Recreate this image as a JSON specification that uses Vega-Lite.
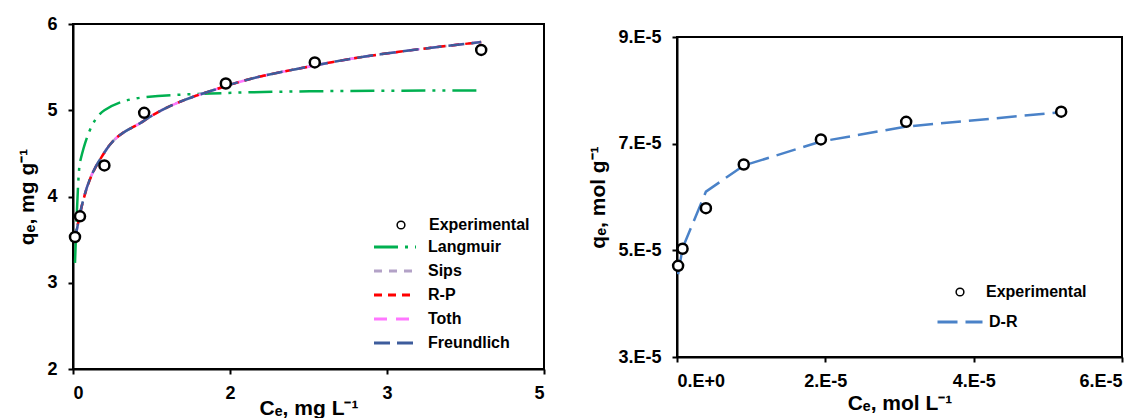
{
  "$schema": "https://vega.github.io/schema/vega-lite/v6.json",
  "background": "white",
  "padding": {"left": 15, "top": 14, "right": 0, "bottom": 0},
  "config": {
    "font": "Liberation Sans",
    "view": {"stroke": "black", "strokeWidth": 2},
    "axis": {
      "labelFont": "Liberation Sans", "labelFontWeight": "bold", "labelFontSize": 18, "labelColor": "black",
      "titleFont": "Liberation Sans", "titleFontWeight": "bold", "titleFontSize": 21, "titleColor": "black",
      "domainColor": "black", "domainWidth": 2, "tickColor": "black", "tickWidth": 2, "tickSize": 5,
      "grid": false, "labelPadding": 10
    },
    "legend": {
      "labelFont": "Liberation Sans", "labelFontWeight": "bold", "labelFontSize": 16, "labelColor": "black",
      "padding": 0
    },
    "concat": {"spacing": 40}
  },
  "datasets": {
    "left_exp": [
      {"series": "Experimental", "ce": 0.019, "qe": 3.53},
      {"series": "Experimental", "ce": 0.067, "qe": 3.77},
      {"series": "Experimental", "ce": 0.30, "qe": 4.36},
      {"series": "Experimental", "ce": 0.68, "qe": 4.97},
      {"series": "Experimental", "ce": 1.46, "qe": 5.31},
      {"series": "Experimental", "ce": 2.31, "qe": 5.555},
      {"series": "Experimental", "ce": 3.90, "qe": 5.70}
    ],
    "left_fit": [
      {"model": "Langmuir", "ce": 0.019, "qe": 3.23},
      {"model": "Langmuir", "ce": 0.067, "qe": 4.40},
      {"model": "Langmuir", "ce": 0.30, "qe": 5.00},
      {"model": "Langmuir", "ce": 0.68, "qe": 5.15},
      {"model": "Langmuir", "ce": 1.46, "qe": 5.20},
      {"model": "Langmuir", "ce": 2.31, "qe": 5.22},
      {"model": "Langmuir", "ce": 3.90, "qe": 5.23},
      {"model": "Sips", "ce": 0.019, "qe": 3.50},
      {"model": "Sips", "ce": 0.067, "qe": 3.80},
      {"model": "Sips", "ce": 0.30, "qe": 4.51},
      {"model": "Sips", "ce": 0.68, "qe": 4.88},
      {"model": "Sips", "ce": 1.46, "qe": 5.28},
      {"model": "Sips", "ce": 2.31, "qe": 5.52},
      {"model": "Sips", "ce": 3.90, "qe": 5.79},
      {"model": "Toth", "ce": 0.019, "qe": 3.50},
      {"model": "Toth", "ce": 0.067, "qe": 3.80},
      {"model": "Toth", "ce": 0.30, "qe": 4.51},
      {"model": "Toth", "ce": 0.68, "qe": 4.88},
      {"model": "Toth", "ce": 1.46, "qe": 5.28},
      {"model": "Toth", "ce": 2.31, "qe": 5.52},
      {"model": "Toth", "ce": 3.90, "qe": 5.79},
      {"model": "R-P", "ce": 0.019, "qe": 3.51},
      {"model": "R-P", "ce": 0.067, "qe": 3.80},
      {"model": "R-P", "ce": 0.30, "qe": 4.51},
      {"model": "R-P", "ce": 0.68, "qe": 4.88},
      {"model": "R-P", "ce": 1.46, "qe": 5.28},
      {"model": "R-P", "ce": 2.31, "qe": 5.52},
      {"model": "R-P", "ce": 3.90, "qe": 5.79},
      {"model": "Freundlich", "ce": 0.019, "qe": 3.50},
      {"model": "Freundlich", "ce": 0.067, "qe": 3.80},
      {"model": "Freundlich", "ce": 0.30, "qe": 4.51},
      {"model": "Freundlich", "ce": 0.68, "qe": 4.88},
      {"model": "Freundlich", "ce": 1.46, "qe": 5.28},
      {"model": "Freundlich", "ce": 2.31, "qe": 5.52},
      {"model": "Freundlich", "ce": 3.90, "qe": 5.79}
    ],
    "right_exp": [
      {"series": "Experimental", "ce": 1.5e-7, "qe": 4.71e-5},
      {"series": "Experimental", "ce": 7.5e-7, "qe": 5.03e-5},
      {"series": "Experimental", "ce": 3.9e-6, "qe": 5.79e-5},
      {"series": "Experimental", "ce": 9.0e-6, "qe": 6.61e-5},
      {"series": "Experimental", "ce": 1.94e-5, "qe": 7.08e-5},
      {"series": "Experimental", "ce": 3.09e-5, "qe": 7.41e-5},
      {"series": "Experimental", "ce": 5.18e-5, "qe": 7.60e-5}
    ],
    "right_fit": [
      {"model": "D-R", "ce": 1.5e-7, "qe": 4.55e-5},
      {"model": "D-R", "ce": 7.5e-7, "qe": 5.04e-5},
      {"model": "D-R", "ce": 3.9e-6, "qe": 6.10e-5},
      {"model": "D-R", "ce": 9.0e-6, "qe": 6.59e-5},
      {"model": "D-R", "ce": 1.94e-5, "qe": 7.04e-5},
      {"model": "D-R", "ce": 3.09e-5, "qe": 7.32e-5},
      {"model": "D-R", "ce": 5.18e-5, "qe": 7.59e-5}
    ]
  },
  "hconcat": [
    {
      "width": 471,
      "height": 345,
      "layer": [
        {
          "data": {"name": "left_fit"},
          "mark": {"type": "line", "strokeWidth": 2.5, "interpolate": "monotone"},
          "encoding": {
            "x": {"field": "ce", "type": "quantitative",
              "scale": {"domain": [0, 4.5], "nice": false, "zero": false},
              "axis": {"title": "Cₑ, mg L⁻¹", "values": [0, 1.5, 3, 4.5], "labelExpr": "'' + round(datum.value)", "titlePadding": -5}},
            "y": {"field": "qe", "type": "quantitative",
              "scale": {"domain": [2, 6], "nice": false, "zero": false},
              "axis": {"title": "qₑ, mg g⁻¹", "values": [2, 3, 4, 5, 6], "labelExpr": "'' + round(datum.value)", "labelPadding": 11, "titlePadding": 9}},
            "color": {"field": "model", "type": "nominal",
              "scale": {"domain": ["Langmuir", "Sips", "R-P", "Toth", "Freundlich"],
                        "range": ["#00b050", "#b3a2c7", "#ff0000", "#ff77ff", "#3d5c9c"]},
              "legend": {"orient": "none", "legendX": 310, "legendY": 211, "title": null,
                         "symbolType": "M-2,0H2", "symbolSize": 441, "symbolStrokeWidth": 3,
                         "labelOffset": 21, "rowPadding": 4}},
            "strokeDash": {"field": "model", "type": "nominal",
              "scale": {"domain": ["Langmuir", "Sips", "R-P", "Toth", "Freundlich"],
                        "range": [[24, 7, 3, 7, 3, 7], [8, 7], [8, 6], [13, 9], [16, 7]]},
              "legend": {"orient": "none", "legendX": 310, "legendY": 211, "title": null,
                         "symbolType": "M-2,0H2", "symbolSize": 441, "symbolStrokeWidth": 3,
                         "labelOffset": 21, "rowPadding": 4}}
          }
        },
        {
          "data": {"name": "left_exp"},
          "mark": {"type": "point", "shape": "circle", "filled": true, "fill": "white", "stroke": "black", "strokeWidth": 2.5, "size": 100, "opacity": 1},
          "encoding": {
            "x": {"field": "ce", "type": "quantitative"},
            "y": {"field": "qe", "type": "quantitative"},
            "shape": {"field": "series", "type": "nominal",
              "scale": {"domain": ["Experimental"], "range": ["circle"]},
              "legend": {"orient": "none", "legendX": 320, "legendY": 193, "title": null,
                         "symbolSize": 60, "labelOffset": 20,
                         "encode": {"symbols": {"update": {"stroke": {"value": "black"}, "strokeWidth": {"value": 2.5}, "fill": {"value": "white"}, "opacity": {"value": 1}}}}}}
          }
        }
      ]
    },
    {
      "spacing": 2,
      "vconcat": [
        {
          "width": 445,
          "height": 1,
          "view": {"stroke": null},
          "data": {"values": []},
          "mark": {"type": "point"}
        },
        {
          "width": 445,
          "height": 320,
          "layer": [
            {
              "data": {"name": "right_fit"},
              "mark": {"type": "line", "strokeWidth": 2.5},
              "encoding": {
                "x": {"field": "ce", "type": "quantitative",
                  "scale": {"domain": [0, 6e-5], "nice": false, "zero": false},
                  "axis": {"title": "Cₑ, mol L⁻¹", "values": [0, 2e-5, 4e-5, 6e-5],
                           "labelExpr": "datum.value == 0 ? '0.E+0' : round(datum.value * 100000) + '.E-5'", "titlePadding": 2}},
                "y": {"field": "qe", "type": "quantitative",
                  "scale": {"domain": [3e-5, 9e-5], "nice": false, "zero": false},
                  "axis": {"title": "qₑ, mol g⁻¹", "values": [3e-5, 5e-5, 7e-5, 9e-5],
                           "labelExpr": "round(datum.value * 100000) + '.E-5'", "labelPadding": 11, "titlePadding": 9}},
                "color": {"field": "model", "type": "nominal",
                  "scale": {"domain": ["D-R"], "range": ["#4a82c8"]},
                  "legend": {"orient": "none", "legendX": 259, "legendY": 274, "title": null,
                             "symbolType": "stroke", "symbolSize": 2025, "symbolStrokeWidth": 3,
                             "labelOffset": 5}},
                "strokeDash": {"field": "model", "type": "nominal",
                  "scale": {"domain": ["D-R"], "range": [[20, 8]]},
                  "legend": {"orient": "none", "legendX": 259, "legendY": 274, "title": null,
                             "symbolType": "stroke", "symbolSize": 2025, "symbolStrokeWidth": 3,
                             "labelOffset": 5}}
              }
            },
            {
              "data": {"name": "right_exp"},
              "mark": {"type": "point", "shape": "circle", "filled": true, "fill": "white", "stroke": "black", "strokeWidth": 2.5, "size": 100, "opacity": 1},
              "encoding": {
                "x": {"field": "ce", "type": "quantitative"},
                "y": {"field": "qe", "type": "quantitative"},
                "shape": {"field": "series", "type": "nominal",
                  "scale": {"domain": ["Experimental"], "range": ["circle"]},
                  "legend": {"orient": "none", "legendX": 275, "legendY": 260, "title": null,
                             "symbolSize": 60, "labelOffset": 18,
                             "encode": {"symbols": {"update": {"stroke": {"value": "black"}, "strokeWidth": {"value": 2.5}, "fill": {"value": "white"}, "opacity": {"value": 1}}}}}}
              }
            }
          ]
        }
      ]
    }
  ],
  "resolve": {
    "scale": {"x": "independent", "y": "independent", "color": "independent", "strokeDash": "independent", "shape": "independent"},
    "legend": {"color": "independent", "strokeDash": "independent", "shape": "independent"}
  }
}
